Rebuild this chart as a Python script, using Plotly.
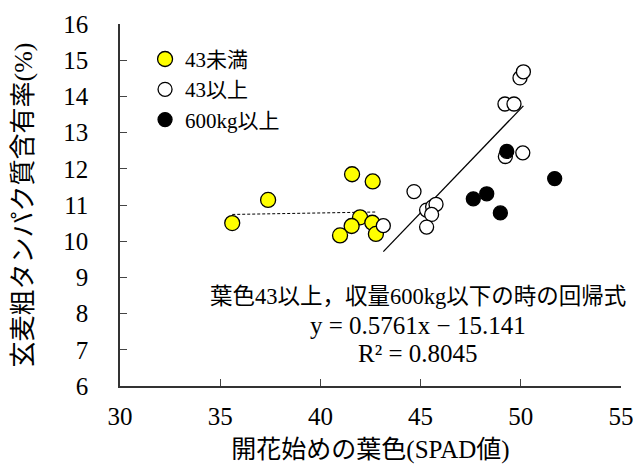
import numpy as np
import plotly.graph_objects as go

# Leaf colour at start of flowering (SPAD) vs. grain crude protein content (%)
spad_low = [35.60, 37.39, 41.58, 42.61, 41.98, 41.56, 40.98, 42.59, 42.77]
prot_low = [10.50, 11.14, 11.85, 11.65, 10.66, 10.42, 10.16, 10.51, 10.20]

spad_high = [44.67, 45.30, 45.60, 45.77, 45.55, 45.30, 43.14,
             49.21, 49.66, 49.96, 50.13, 49.23, 50.10]
prot_high = [11.37, 10.86, 10.95, 11.02, 10.74, 10.39, 10.43,
             13.79, 13.79, 14.51, 14.68, 12.34, 12.44]

spad_yield = [49.30, 47.63, 48.30, 48.98, 51.69]
prot_yield = [12.48, 11.17, 11.31, 10.78, 11.73]

# Regression for SPAD >= 43 and yield <= 600 kg
SLOPE = 0.5761
INTERCEPT = -15.141
R2 = 0.8045

x_ticks = [30, 35, 40, 45, 50, 55]
y_ticks = [6, 7, 8, 9, 10, 11, 12, 13, 14, 15, 16]

FONT = "Liberation Serif, Noto Sans CJK JP, serif"

fig = go.Figure()

# dashed trend for the low-SPAD group
p = np.polyfit(spad_low, prot_low, 1)
xl = np.array([min(spad_low), max(spad_low)])
fig.add_trace(go.Scatter(x=xl, y=np.polyval(p, xl), mode="lines",
                         line=dict(color="black", width=1, dash="3px,2px"),
                         showlegend=False, hoverinfo="skip"))

# regression line over the SPAD >= 43 group
xh = np.array([min(spad_high), max(spad_high)])
fig.add_trace(go.Scatter(x=xh, y=SLOPE * xh + INTERCEPT, mode="lines",
                         line=dict(color="black", width=1.3),
                         showlegend=False, hoverinfo="skip"))

fig.add_trace(go.Scatter(x=spad_low, y=prot_low, mode="markers", name="43未満",
                         marker=dict(size=15, color="#FFFF00",
                                     line=dict(color="black", width=1.3))))
fig.add_trace(go.Scatter(x=spad_high, y=prot_high, mode="markers", name="43以上",
                         marker=dict(size=14, color="white",
                                     line=dict(color="black", width=1.3))))
fig.add_trace(go.Scatter(x=spad_yield, y=prot_yield, mode="markers", name="600kg以上",
                         marker=dict(size=14, color="black",
                                     line=dict(color="black", width=1.3))))

eq = f"y = {SLOPE:.4f}x − {abs(INTERCEPT):.3f}"
r2 = f"R² = {R2:.4f}"
for txt, yv, fs in [("葉色43以上，収量600kg以下の時の回帰式", 8.46, 22.5),
                    (eq, 7.66, 25), (r2, 6.91, 25)]:
    fig.add_annotation(x=44.87, y=yv, xref="x", yref="y", text=txt,
                       showarrow=False, font=dict(size=fs, family=FONT, color="black"))

fig.update_layout(
    width=633, height=468,
    margin=dict(l=120, r=12, t=24, b=82, autoexpand=False),
    paper_bgcolor="white", plot_bgcolor="white",
    font=dict(family=FONT, size=22, color="black"),
    showlegend=True,
    legend=dict(x=0.05, y=0.959, xanchor="left", yanchor="top",
                bgcolor="rgba(0,0,0,0)", font=dict(size=21, family=FONT),
                itemsizing="trace", tracegroupgap=0),
    xaxis=dict(range=[30, 55], tickvals=x_ticks, ticks="inside", ticklen=7,
               tickcolor="#444", showline=True, linecolor="#333", linewidth=1.5,
               showgrid=False, zeroline=False, ticklabelstandoff=7, automargin=False,
               ticklabeloverflow="allow",
               tickfont=dict(size=25, family=FONT),
               title=dict(text="開花始めの葉色(SPAD値)", standoff=12,
                          font=dict(size=25, family=FONT))),
    yaxis=dict(range=[6, 16], tickvals=y_ticks, ticks="inside", ticklen=7,
               tickcolor="#444", showline=True, linecolor="#333", linewidth=1.5,
               showgrid=False, zeroline=False, ticklabelstandoff=25, automargin=False,
               ticklabeloverflow="allow",
               tickfont=dict(size=25, family=FONT),
               title=dict(text="玄麦粗タンパク質含有率(%)", standoff=23,
                          font=dict(size=26, family=FONT))),
)

fig.write_html("out.html")
